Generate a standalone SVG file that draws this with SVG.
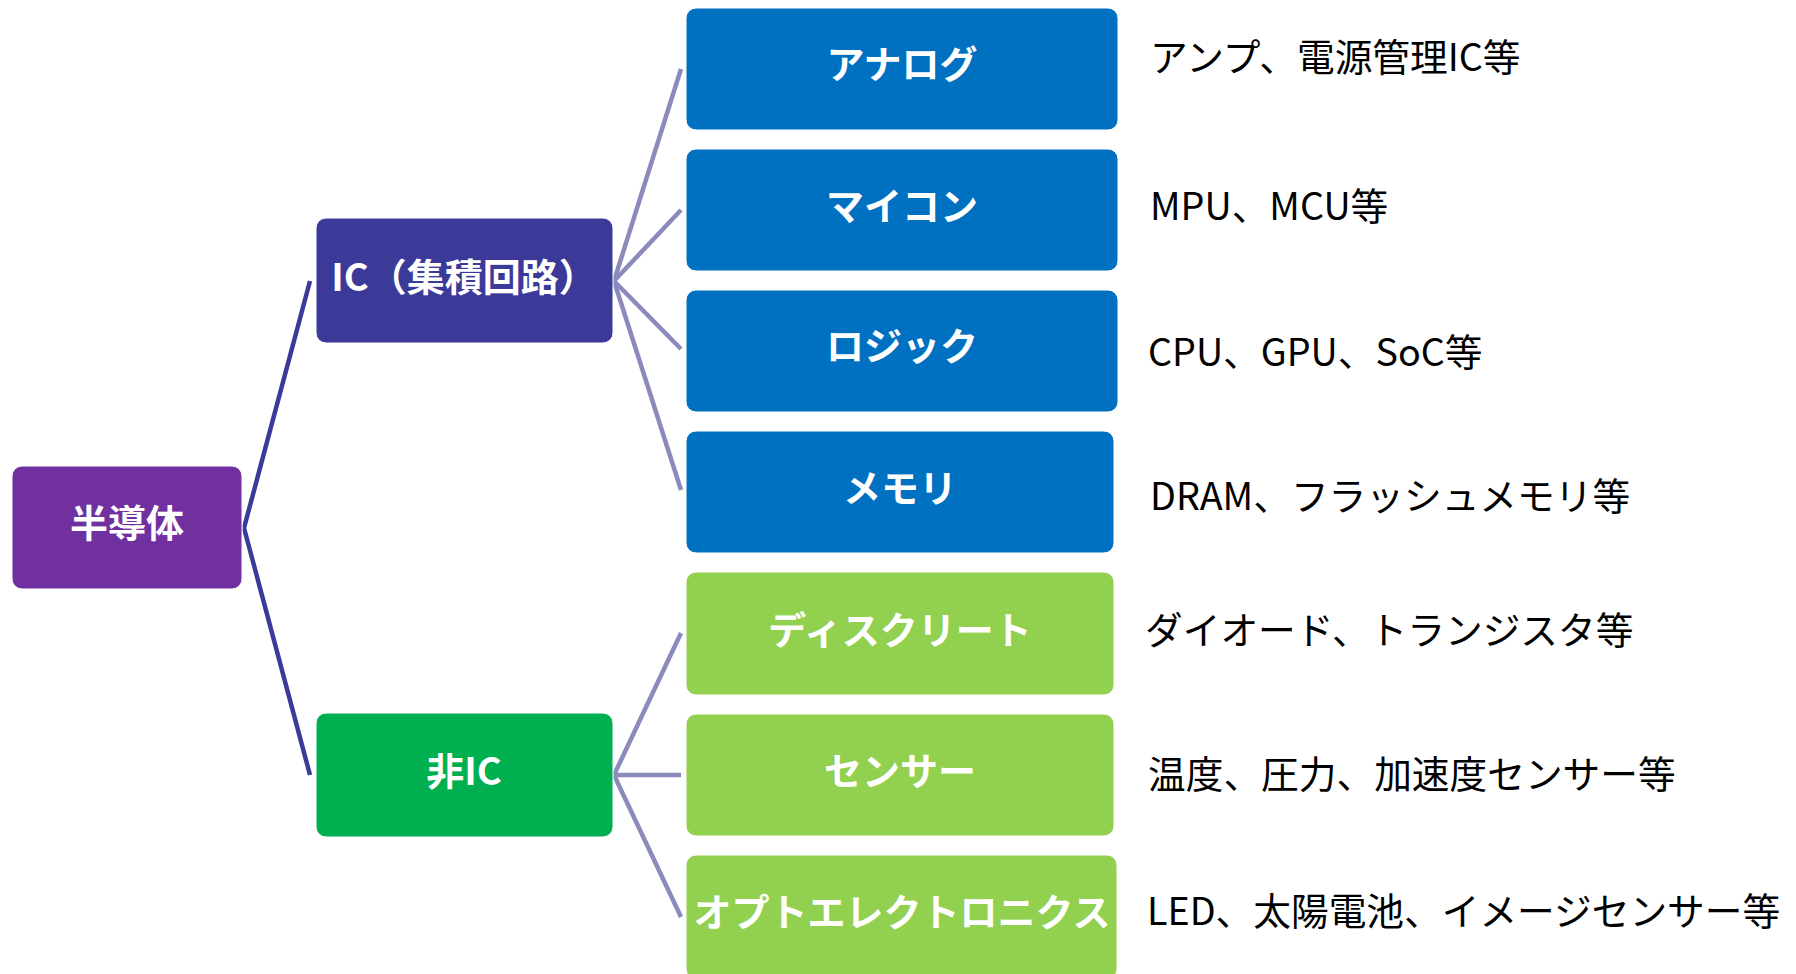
<svg xmlns="http://www.w3.org/2000/svg" width="1796" height="974" viewBox="0 0 1796 974">
<style>
.box{stroke:#ffffff;stroke-width:1}
.lbl{font-family:"Noto Sans CJK JP","Noto Sans",sans-serif;font-weight:bold;font-size:38px;fill:#ffffff;text-anchor:middle;dominant-baseline:central}
.desc{font-family:"Noto Sans CJK JP","Noto Sans",sans-serif;font-size:37.7px;fill:#000000;dominant-baseline:central}
.c1{stroke:#3B3A98;stroke-width:4.5;fill:none}
.c2{stroke:#8B8ABD;stroke-width:4.5;fill:none}
</style>
<rect width="1796" height="974" fill="#ffffff"/>
<g id="connectors">
<line class="c1" x1="244" y1="528" x2="310" y2="281"/>
<line class="c1" x1="244" y1="528" x2="310" y2="775"/>
<line class="c2" x1="614" y1="281" x2="681" y2="69"/>
<line class="c2" x1="614" y1="281" x2="681" y2="210"/>
<line class="c2" x1="614" y1="281" x2="681" y2="349"/>
<line class="c2" x1="614" y1="281" x2="681" y2="490"/>
<line class="c2" x1="614" y1="775" x2="681" y2="633"/>
<line class="c2" x1="614" y1="775" x2="681" y2="775"/>
<line class="c2" x1="614" y1="775" x2="681" y2="917"/>
</g>
<g id="node-semiconductor">
<rect class="box" x="12" y="466" width="230" height="123" rx="10" fill="#7030A0"/>
<text class="lbl" x="127" y="520">半導体</text>
</g>
<g id="node-ic">
<rect class="box" x="316" y="218" width="297" height="125" rx="10" fill="#3B3A98"/>
<text class="lbl" x="464" y="274">IC（集積回路）</text>
</g>
<g id="node-nonic">
<rect class="box" x="316" y="713" width="297" height="124" rx="10" fill="#00B050"/>
<text class="lbl" x="464" y="768">非IC</text>
</g>
<g id="node-analog">
<rect class="box" x="686" y="8" width="432" height="122" rx="10" fill="#0070C0"/>
<text class="lbl" x="902" y="61">アナログ</text>
</g>
<g id="node-micon">
<rect class="box" x="686" y="149" width="432" height="122" rx="10" fill="#0070C0"/>
<text class="lbl" x="902" y="203">マイコン</text>
</g>
<g id="node-logic">
<rect class="box" x="686" y="290" width="432" height="122" rx="10" fill="#0070C0"/>
<text class="lbl" x="902" y="343">ロジック</text>
</g>
<g id="node-memory">
<rect class="box" x="686" y="431" width="428" height="122" rx="10" fill="#0070C0"/>
<text class="lbl" x="900" y="485">メモリ</text>
</g>
<g id="node-discrete">
<rect class="box" x="686" y="572" width="428" height="123" rx="10" fill="#92D050"/>
<text class="lbl" x="900" y="627">ディスクリート</text>
</g>
<g id="node-sensor">
<rect class="box" x="686" y="714" width="428" height="122" rx="10" fill="#92D050"/>
<text class="lbl" x="900" y="768">センサー</text>
</g>
<g id="node-opto">
<rect class="box" x="686" y="855" width="431" height="124" rx="10" fill="#92D050"/>
<text class="lbl" x="902" y="909">オプトエレクトロニクス</text>
</g>
<g id="descriptions">
<text class="desc" x="1150" y="54">アンプ、電源管理IC等</text>
<text class="desc" x="1150" y="203">MPU、MCU等</text>
<text class="desc" x="1148" y="349">CPU、GPU、SoC等</text>
<text class="desc" x="1150" y="493">DRAM、フラッシュメモリ等</text>
<text class="desc" x="1145" y="627">ダイオード、トランジスタ等</text>
<text class="desc" x="1148" y="771">温度、圧力、加速度センサー等</text>
<text class="desc" x="1147" y="908">LED、太陽電池、イメージセンサー等</text>
</g>
</svg>
